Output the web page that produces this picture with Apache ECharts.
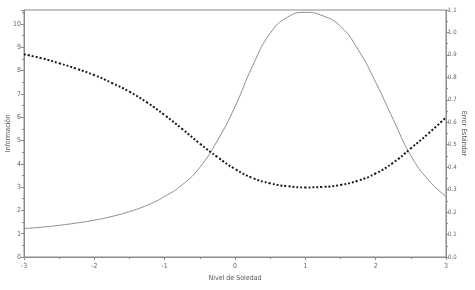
<!DOCTYPE html>
<html><head><meta charset="utf-8">
<script src="https://cdn.jsdelivr.net/npm/echarts@6/dist/echarts.min.js"></script>
<style>html,body{margin:0;padding:0;background:#fff}#c{width:475px;height:290px}</style>
</head><body><div id="c"></div>
<script>
const theta = [-3,-2.75,-2.5,-2.25,-2,-1.75,-1.5,-1.25,-1,-0.75,-0.5,-0.25,0,0.25,0.5,0.75,1,1.25,1.5,1.75,2,2.25,2.5,2.75,3];
const informacion = [1.22,1.28,1.36,1.46,1.58,1.74,1.95,2.22,2.6,3.1,3.85,5.0,6.45,8.2,9.6,10.3,10.5,10.35,9.9,8.9,7.5,5.9,4.35,3.3,2.6];
const errorEst = [0.903,0.885,0.863,0.838,0.81,0.775,0.736,0.688,0.632,0.57,0.505,0.445,0.392,0.352,0.328,0.315,0.310,0.312,0.321,0.34,0.372,0.42,0.484,0.55,0.622];
const xName = 'Nivel de Soledad', yLeftName = 'Información', yRightName = 'Error Estándar';

const font = "'Liberation Sans Narrow','DejaVu Sans Condensed','Liberation Sans',sans-serif";
const axisCol = '#8a8a8a', labCol = '#666';
const common = {
  axisLine:{show:true,onZero:false,lineStyle:{color:axisCol,width:1}},
  axisTick:{show:true,length:3,lineStyle:{color:axisCol}},
  minorTick:{show:true,splitNumber:2,length:2,lineStyle:{color:axisCol}},
  splitLine:{show:false},
  nameMoveOverlap:false,
  nameTextStyle:{color:'#555',fontFamily:font,fontSize:7}
};
const chart = echarts.init(document.getElementById('c'));
chart.setOption({
  animation:false,
  grid:{left:24,right:29,top:10,bottom:33,containLabel:false,outerBoundsMode:'none',show:true,borderColor:axisCol,borderWidth:1,backgroundColor:'transparent'},
  xAxis:Object.assign({type:'value',min:-3,max:3,interval:1,name:xName,nameLocation:'middle',nameGap:18,
    axisLabel:{color:labCol,fontFamily:font,fontSize:7,margin:6}},common),
  yAxis:[
    Object.assign({type:'value',min:0,max:10.6,interval:1,name:yLeftName,nameLocation:'middle',nameGap:12,nameRotate:90,position:'left',
      axisLabel:{color:labCol,fontFamily:font,fontSize:7,margin:3,formatter:v=>Number.isInteger(v)?String(v):''}},common),
    Object.assign({type:'value',min:0,max:1.1,interval:0.1,name:yRightName,nameLocation:'middle',nameGap:14,nameRotate:-90,position:'right',
      axisLabel:{color:labCol,fontFamily:font,fontSize:6,margin:2,formatter:v=>v.toFixed(1)}},common)
  ],
  series:[
    {type:'line',yAxisIndex:0,smooth:true,symbol:'none',data:theta.map((t,i)=>[t,informacion[i]]),
      lineStyle:{color:'#8c8c8c',width:1}},
    {type:'line',yAxisIndex:1,smooth:true,symbol:'none',data:theta.map((t,i)=>[t,errorEst[i]]),
      lineStyle:{color:'#1a1a1a',width:2,type:[2,2]}}
  ]
});
</script></body></html>
